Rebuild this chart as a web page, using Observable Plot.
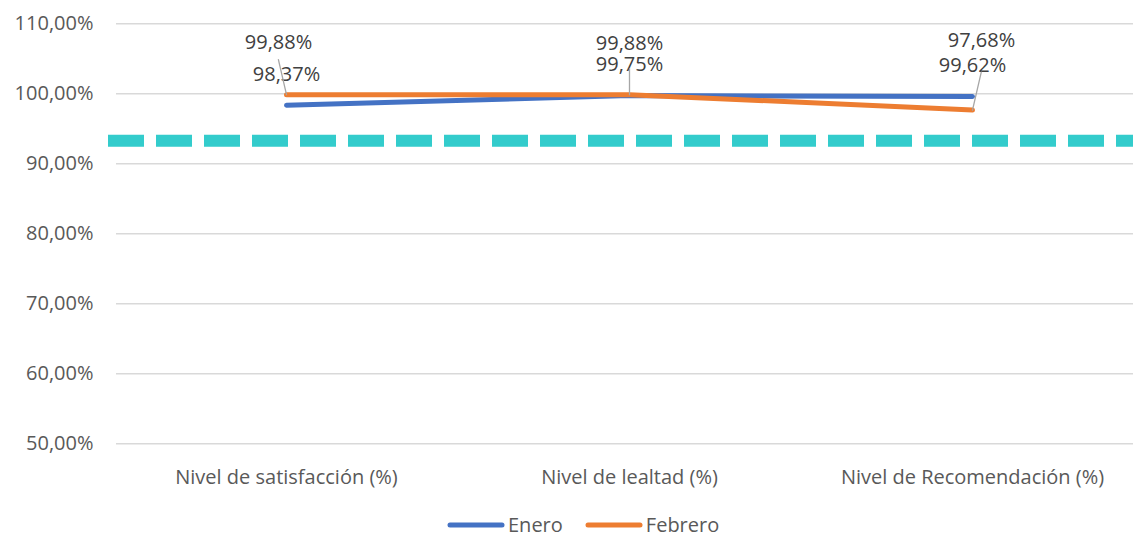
<!DOCTYPE html>
<html>
<head>
<meta charset="utf-8">
<script src="https://cdn.jsdelivr.net/npm/d3@7"></script>
<script src="https://cdn.jsdelivr.net/npm/@observablehq/plot@0.6"></script>
<style>
  html, body { margin: 0; padding: 0; background: #fff; }
  #chart { width: 1133px; }
  .legend { display: flex; align-items: center; margin-left: 447px; padding-top: 15px; height: 20px; font-family: "Open Sans", sans-serif; font-size: 20px; line-height: 20px; color: #595959; }
  .legend .item { display: flex; align-items: center; margin-right: 22px; }
  .legend svg { display: block; }
</style>
</head>
<body>
<div id="chart"></div>
<script>
// ---- data ----
const categories = ["Nivel de satisfacción (%)", "Nivel de lealtad (%)", "Nivel de Recomendación (%)"];
const enero = [98.37, 99.75, 99.62];
const febrero = [99.88, 99.88, 97.68];
const meta = 93.3;
const yTicks = [50, 60, 70, 80, 90, 100, 110];
const seriesNames = ["Enero", "Febrero"];

// ---- styling ----
const colors = {Enero: "#4472C4", Febrero: "#ED7D31"};
const fmt = v => v.toFixed(2).replace(".", ",") + "%";
// custom label placement for Febrero (pixel offsets) and their leader lines
const febLabelOffset = [[-8, -52], [0, -51], [9, -69]];
const febLeader = [[36, -13], [26, 0], [39, 13]]; // [length px, rotate deg]

const rows = [];
categories.forEach((c, i) => {
  rows.push({cat: c, serie: "Enero", value: enero[i]});
  rows.push({cat: c, serie: "Febrero", value: febrero[i]});
});
const eneroRows = rows.filter(d => d.serie === "Enero");
const febRows = rows.filter(d => d.serie === "Febrero");

const lineShape = {draw(context, l) { context.moveTo(0, 0); context.lineTo(0, -l); }};

const febMarks = [];
febRows.forEach((r, i) => {
  febMarks.push(Plot.vector([r], {
    x: "cat", y: "value", length: febLeader[i][0], rotate: febLeader[i][1],
    anchor: "start", shape: lineShape, stroke: "#A6A6A6", strokeWidth: 1.3
  }));
  febMarks.push(Plot.text([r], {
    x: "cat", y: "value", text: d => fmt(d.value),
    dx: febLabelOffset[i][0], dy: febLabelOffset[i][1],
    fill: "#404040", fontSize: 20
  }));
});

const chart = Plot.plot({
  width: 1133,
  height: 500,
  marginLeft: 108,
  marginRight: 0,
  marginTop: 23,
  marginBottom: 57,
  style: {fontFamily: "'Open Sans', sans-serif", fontSize: "20px", color: "#595959", background: "#fff"},
  x: {type: "point", domain: categories, padding: 0.5, range: [114.5, 1143.5], label: null},
  y: {domain: [50, 110], range: [443.3, 23.3], label: null},
  marks: [
    Plot.ruleY(yTicks, {stroke: "#D9D9D9", strokeWidth: 1.5, insetLeft: 8}),
    Plot.ruleY([meta], {stroke: "#33CCCC", strokeWidth: 12, strokeDasharray: "36,12"}),
    Plot.axisY(yTicks, {tickSize: 0, tickPadding: 15, tickFormat: fmt, fill: "#595959", fontSize: 20, label: null}),
    Plot.axisX({tickSize: 0, tickPadding: 26, fill: "#595959", fontSize: 20, label: null}),
    Plot.line(eneroRows, {x: "cat", y: "value", stroke: colors.Enero, strokeWidth: 5, strokeLinecap: "round", strokeLinejoin: "round"}),
    Plot.line(febRows, {x: "cat", y: "value", stroke: colors.Febrero, strokeWidth: 5, strokeLinecap: "round", strokeLinejoin: "round"}),
    Plot.text(eneroRows, {x: "cat", y: "value", text: d => fmt(d.value), dy: -31, fill: "#404040", fontSize: 20}),
    ...febMarks
  ]
});
document.getElementById("chart").appendChild(chart);

// legend
const legend = document.createElement("div");
legend.className = "legend";
seriesNames.forEach(name => {
  const item = document.createElement("div");
  item.className = "item";
  item.innerHTML = `<svg width="58" height="10"><line x1="3" y1="5" x2="55" y2="5" stroke="${colors[name]}" stroke-width="5" stroke-linecap="round"/></svg><span style="margin-left:3px">${name}</span>`;
  legend.appendChild(item);
});
document.body.appendChild(legend);
</script>
</body>
</html>
